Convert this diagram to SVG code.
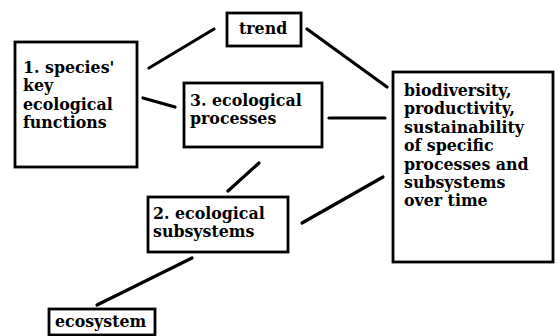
<svg xmlns="http://www.w3.org/2000/svg" width="559" height="336" viewBox="0 0 559 336">
<style>
.box{fill:#fff;stroke:#000;stroke-width:2.8}
.t{font-family:"DejaVu Serif","Liberation Serif",serif;font-weight:bold;font-size:15.8px;fill:#000}
.c{stroke:#000;stroke-width:3.2;stroke-linecap:round;fill:none}
</style>
<rect width="559" height="336" fill="#fff"/>
<g id="connectors">
<line class="c" x1="149" y1="68" x2="214" y2="29"/>
<line class="c" x1="307" y1="29" x2="387" y2="87"/>
<line class="c" x1="143" y1="98" x2="175" y2="107"/>
<line class="c" x1="329" y1="118" x2="385" y2="118"/>
<line class="c" x1="259" y1="163" x2="228" y2="191"/>
<line class="c" x1="302" y1="223" x2="383" y2="177"/>
<line class="c" x1="192" y1="258" x2="97" y2="305"/>
</g>
<g id="trend">
<rect class="box" x="227" y="13" width="74" height="33"/>
<text class="t" x="239" y="34">trend</text>
</g>
<g id="species">
<rect class="box" x="15" y="42" width="122" height="125"/>
<text class="t" x="23" y="73">1. species'</text>
<text class="t" x="23" y="91.4">key</text>
<text class="t" x="23" y="109.8">ecological</text>
<text class="t" x="23" y="128.2">functions</text>
</g>
<g id="processes">
<rect class="box" x="184" y="83" width="138" height="64"/>
<text class="t" x="190" y="106">3. ecological</text>
<text class="t" x="190" y="124.4">processes</text>
</g>
<g id="outcome">
<rect class="box" x="393" y="72" width="160" height="190"/>
<text class="t" x="404" y="96">biodiversity,</text>
<text class="t" x="404" y="114.4">productivity,</text>
<text class="t" x="404" y="132.8">sustainability</text>
<text class="t" x="404" y="151.2">of specific</text>
<text class="t" x="404" y="169.6">processes and</text>
<text class="t" x="404" y="188">subsystems</text>
<text class="t" x="404" y="206.4">over time</text>
</g>
<g id="subsystems">
<rect class="box" x="148" y="197" width="140" height="55"/>
<text class="t" x="153" y="219">2. ecological</text>
<text class="t" x="153" y="237.4">subsystems</text>
</g>
<g id="ecosystem">
<rect class="box" x="49" y="309" width="106" height="26"/>
<text class="t" x="55" y="327">ecosystem</text>
</g>
</svg>
